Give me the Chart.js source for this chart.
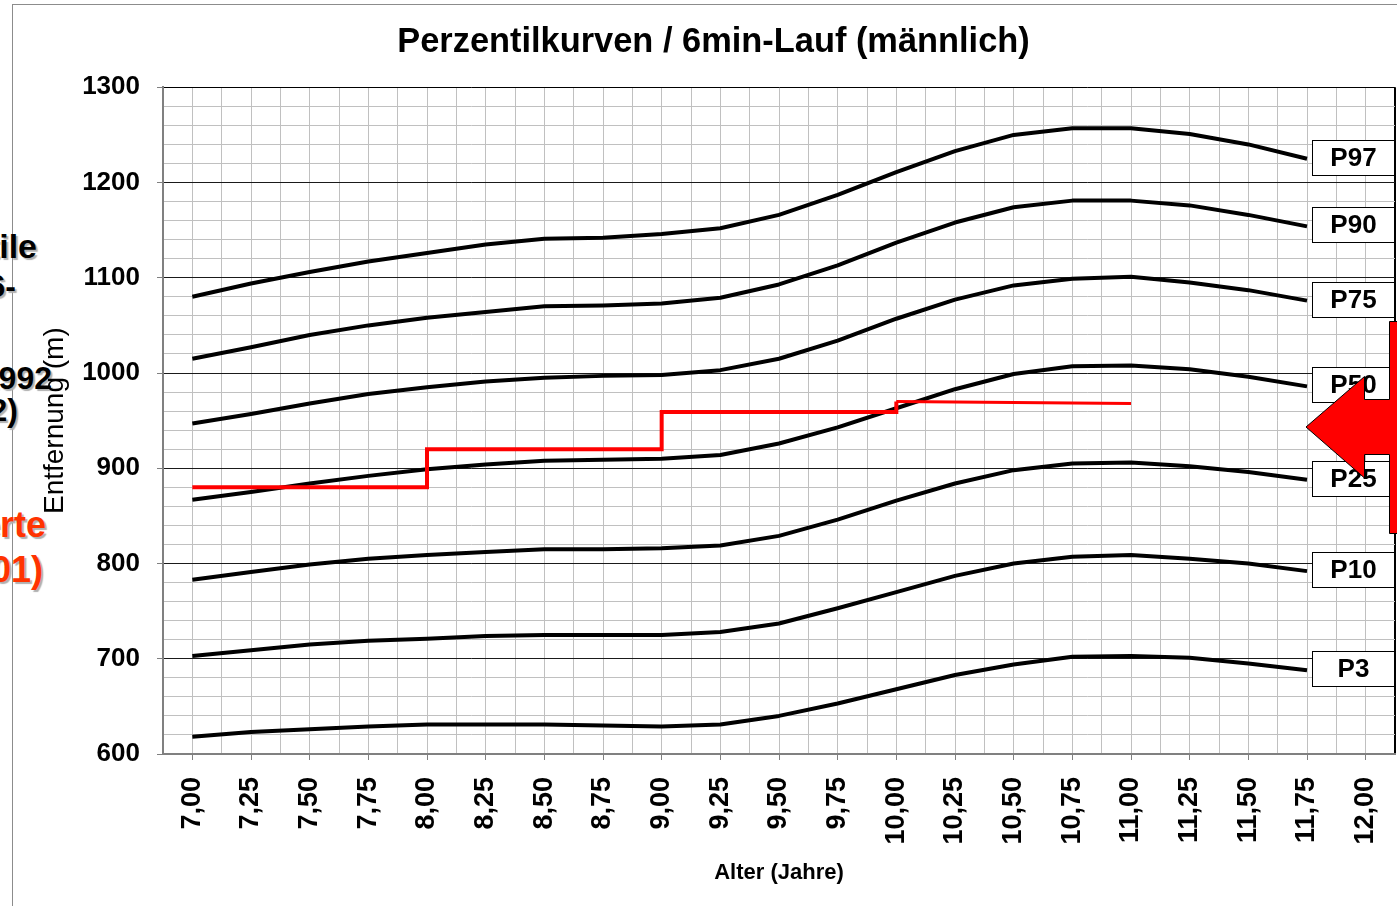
<!DOCTYPE html>
<html>
<head>
<meta charset="utf-8">
<script src="https://cdn.jsdelivr.net/npm/chart.js@4.4.0/dist/chart.umd.min.js"></script>
<style>
html,body{margin:0;padding:0;width:1397px;height:906px;overflow:hidden;background:#fff;}
#frame{position:absolute;left:12px;top:4px;width:1500px;height:1000px;border-left:1px solid #8c8c8c;border-top:1px solid #8c8c8c;}
.side{position:absolute;white-space:nowrap;text-align:right;font-family:'Liberation Sans',Arial,sans-serif;font-weight:bold;font-size:32px;line-height:1;color:#000;text-shadow:2px 2px 1px #b0b0b0;}
.side.big{font-size:34px;}
.side.red{color:#ff3300;font-size:36px;}
canvas{position:absolute;left:0;top:0;}
</style>
</head>
<body>
<div id="frame"></div>
<div class="side big" style="right:1360px;top:229px;">Perzentile</div>
<div class="side" style="right:1381px;top:270px;">des 6-</div>
<div class="side" style="right:1345px;top:362px;">nach Bös 1992</div>
<div class="side" style="right:1379px;top:394px;">2002)</div>
<div class="side red" style="right:1351px;top:507px;">Werte</div>
<div class="side red" style="right:1354px;top:552px;">(2001)</div>
<canvas id="c" width="1397" height="906"></canvas>
<script>
// ---- data ----
const ageLabels = ['7,00','7,25','7,50','7,75','8,00','8,25','8,50','8,75','9,00','9,25','9,50','9,75','10,00','10,25','10,50','10,75','11,00','11,25','11,50','11,75','12,00'];
const p97 = [1080,1094,1106,1117,1126,1135,1141,1142,1146,1152,1166,1187,1211,1233,1250,1257,1257,1251,1240,1225];
const p90 = [1015,1027,1040,1050,1058,1064,1070,1071,1073,1079,1093,1113,1137,1158,1174,1181,1181,1176,1166,1154];
const p75 = [947,957,968,978,985,991,995,997,998,1003,1015,1034,1057,1077,1092,1099,1101,1095,1087,1076];
const p50 = [867,875,884,892,899,904,908,909,910,914,926,943,963,983,999,1007,1008,1004,996,986];
const p25 = [783,791,799,805,809,812,815,815,816,819,829,846,866,884,898,905,906,902,896,888];
const p10 = [703,709,715,719,721,724,725,725,725,728,737,753,770,787,800,807,809,805,800,792];
const p3  = [618,623,626,629,631,631,631,630,629,631,640,653,668,683,694,702,703,701,695,688];
const percentileNames = ['P97','P90','P75','P50','P25','P10','P3'];
const percentileSeries = [p97,p90,p75,p50,p25,p10,p3];
const redAgeIndex = [0,4,4,8,8,12,12,16];
const redValues   = [880,880,920,920,959,959,970,968];
const yMin = 600, yMax = 1300, yStep = 20, yMajor = 100;

const FONT = "'Liberation Sans', Arial, sans-serif";
const isInt = v => Math.abs(v - Math.round(v)) < 1e-6;

const datasets = [];
datasets.push({
  label: 'Werte',
  data: redAgeIndex.map((xi, i) => ({x: xi, y: redValues[i]})),
  borderColor: '#ff0000',
  borderWidth: 4,
  pointRadius: 0,
  tension: 0,
  fill: false,
  borderJoinStyle: 'miter',
  segment: { borderWidth: c => (c.p0DataIndex >= 6 ? 3 : 4) }
});
percentileSeries.forEach((arr, k) => {
  datasets.push({
    label: percentileNames[k],
    pName: percentileNames[k],
    data: arr.map((v, i) => ({x: i, y: v})),
    borderColor: '#000',
    borderWidth: 4,
    pointRadius: 0,
    tension: 0,
    fill: false,
    borderJoinStyle: 'round'
  });
});

const titleShiftPlugin = {
  id: 'titleShift',
  afterLayout(chart) {
    const t = chart.titleBlock;
    if (t) { t.left += 16; t.right += 16; }
  }
};

const pBoxPlugin = {
  id: 'pBoxes',
  afterDatasetsDraw(chart) {
    const {ctx, chartArea, scales} = chart;
    const x = scales.x;
    chart.data.datasets.forEach((ds, i) => {
      if (!ds.pName) return;
      const meta = chart.getDatasetMeta(i);
      const lastPt = meta.data[meta.data.length - 1];
      const left = Math.round(x.getPixelForValue(ds.data[ds.data.length - 1].x) + 5) + 0.5;
      const right = Math.round(chartArea.right) - 0.5;
      const h = 35;
      const top = Math.round(lastPt.y - h / 2 - 1.5) + 0.5;
      ctx.save();
      ctx.fillStyle = '#fff';
      ctx.fillRect(left, top, right - left, h);
      ctx.strokeStyle = '#000';
      ctx.lineWidth = 1;
      ctx.strokeRect(left, top, right - left, h);
      ctx.fillStyle = '#000';
      ctx.font = 'bold 26px ' + FONT;
      ctx.textAlign = 'center';
      ctx.textBaseline = 'middle';
      ctx.fillText(ds.pName, (left + right) / 2, top + h / 2 + 1);
      ctx.restore();
    });
  }
};

const arrowPlugin = {
  id: 'arrow',
  afterDraw(chart) {
    const ctx = chart.ctx;
    ctx.save();
    ctx.beginPath();
    ctx.moveTo(1402, 321.5);
    ctx.lineTo(1389.5, 321.5);
    ctx.lineTo(1389.5, 399.5);
    ctx.lineTo(1364.5, 399.5);
    ctx.lineTo(1364.5, 376.5);
    ctx.lineTo(1306, 427);
    ctx.lineTo(1364.5, 478);
    ctx.lineTo(1364.5, 454.5);
    ctx.lineTo(1389.5, 454.5);
    ctx.lineTo(1389.5, 533.5);
    ctx.lineTo(1402, 533.5);
    ctx.closePath();
    ctx.fillStyle = '#ff0000';
    ctx.fill();
    ctx.strokeStyle = '#000';
    ctx.lineWidth = 1;
    ctx.stroke();
    ctx.restore();
  }
};

new Chart(document.getElementById('c'), {
  type: 'line',
  data: { datasets },
  plugins: [titleShiftPlugin, pBoxPlugin, arrowPlugin],
  options: {
    responsive: false,
    animation: false,
    devicePixelRatio: 1,
    layout: { padding: { left: 0, right: 2, top: 0, bottom: 0 } },
    plugins: {
      legend: { display: false },
      tooltip: { enabled: false },
      title: {
        display: true,
        text: 'Perzentilkurven / 6min-Lauf (männlich)',
        color: '#000',
        font: { family: FONT, size: 34.4, weight: 'bold' },
        padding: { top: 22, bottom: 24 }
      }
    },
    scales: {
      x: {
        type: 'linear',
        position: 'bottom',
        min: -0.5,
        max: ageLabels.length - 0.5,
        ticks: {
          stepSize: 0.5,
          autoSkip: false,
          maxRotation: 90,
          minRotation: 90,
          padding: 17,
          color: '#000',
          font: { family: FONT, size: 27, weight: 'bold' },
          callback: v => (isInt(v) && v >= 0 ? ageLabels[Math.round(v)] : '')
        },
        grid: {
          color: c => {
            const v = c.tick ? c.tick.value : 0;
            if (v >= ageLabels.length - 0.5 - 1e-6) return '#000';
            return '#c0c0c0';
          },
          lineWidth: c => {
            const v = c.tick ? c.tick.value : 0;
            return v >= ageLabels.length - 0.5 - 1e-6 ? 2 : 1;
          },
          tickLength: 6,
          tickColor: c => (c.tick && isInt(c.tick.value) ? '#808080' : 'rgba(0,0,0,0)')
        },
        border: { color: '#808080', width: 2 },
        title: {
          display: true,
          text: 'Alter (Jahre)',
          color: '#000',
          font: { family: FONT, size: 22, weight: 'bold' },
          padding: { top: 0, bottom: 20 }
        },
        afterFit: s => { s.height = 152; s.paddingLeft = 0; s.paddingRight = 0; }
      },
      y: {
        type: 'linear',
        min: yMin,
        max: yMax,
        ticks: {
          stepSize: yStep,
          autoSkip: false,
          padding: 17,
          color: '#000',
          font: { family: FONT, size: 26, weight: 'bold' },
          callback: v => (v % yMajor === 0 ? String(v) : '')
        },
        grid: {
          color: c => {
            const v = c.tick ? c.tick.value : 0;
            if (v === yMax) return '#000';
            return v % yMajor === 0 ? '#1a1a1a' : '#c0c0c0';
          },
          lineWidth: 1,
          tickLength: 6,
          tickColor: c => (c.tick && c.tick.value % yMajor === 0 ? '#808080' : 'rgba(0,0,0,0)')
        },
        border: { color: '#808080', width: 2 },
        title: {
          display: true,
          text: 'Entfernung (m)',
          color: '#000',
          font: { family: FONT, size: 28, weight: 'normal' },
          padding: { top: 38, bottom: 0 }
        },
        afterFit: s => { s.width = 163; s.paddingTop = 0; s.paddingBottom = 0; }
      }
    }
  }
});
</script>
</body>
</html>
